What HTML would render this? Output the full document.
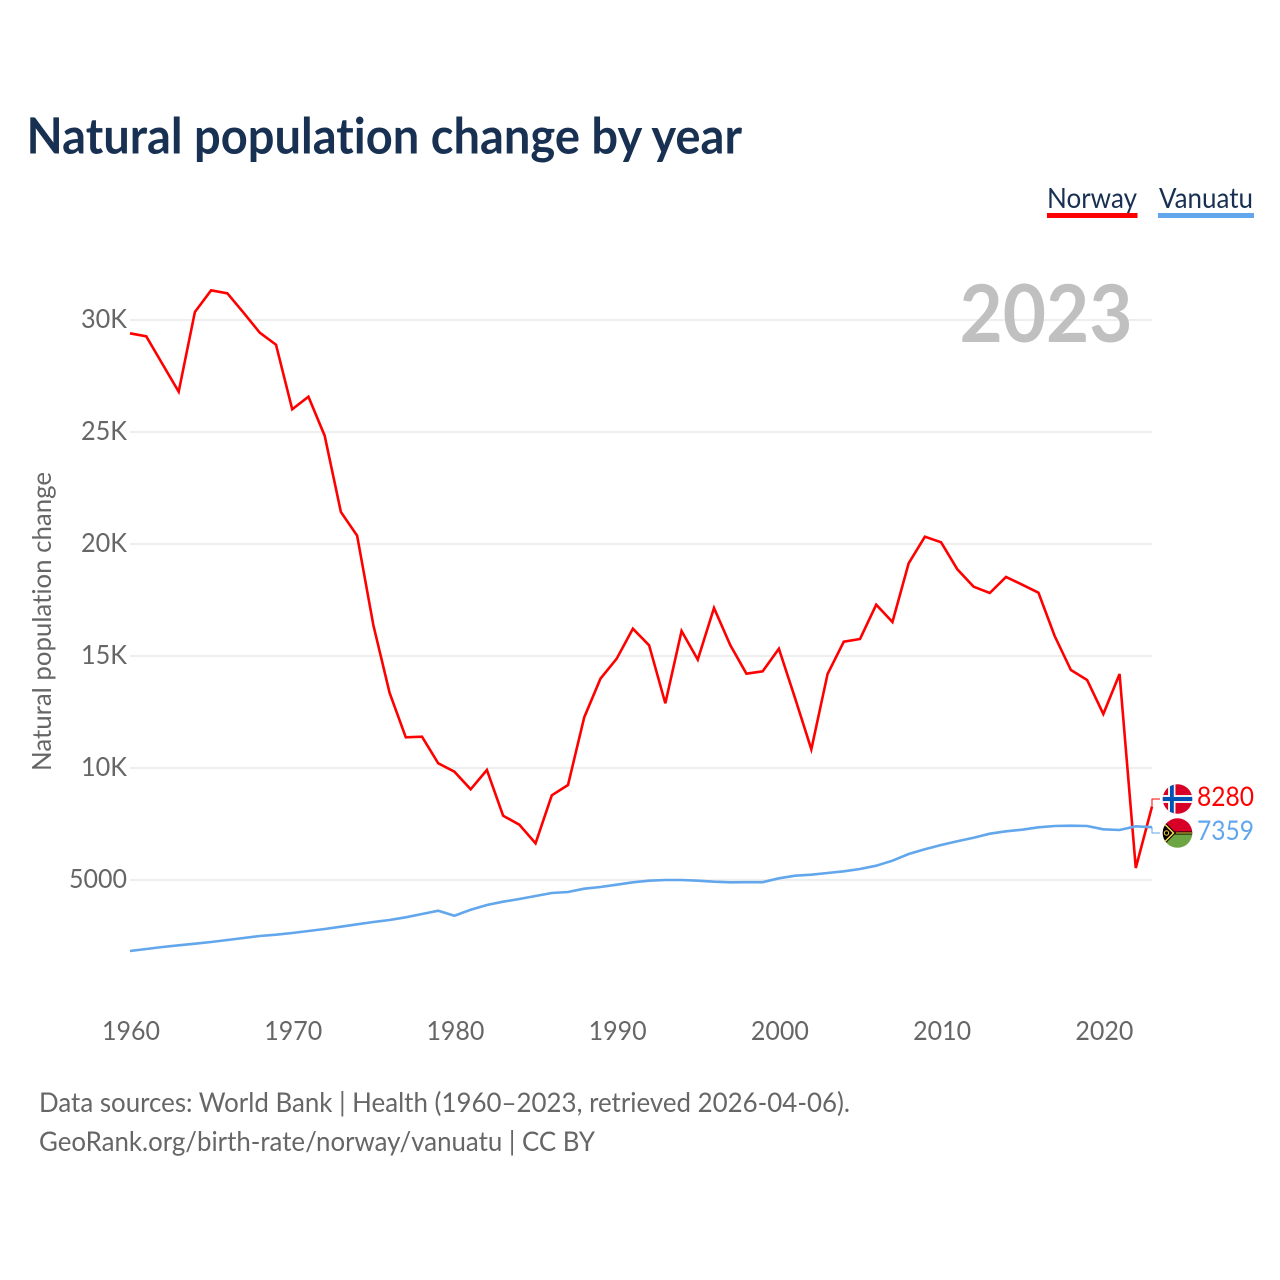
<!DOCTYPE html>
<html lang="en">
<head>
<meta charset="utf-8">
<title>Natural population change by year</title>
<style>
html,body{margin:0;padding:0;background:#fff;width:1280px;height:1280px;overflow:hidden}
svg{display:block}
text{font-family:"Lato","Carlito","Liberation Sans",sans-serif;font-variant-ligatures:none}
</style>
</head>
<body>
<svg id="chart" width="1280" height="1280" viewBox="0 0 1280 1280" xmlns="http://www.w3.org/2000/svg">
  <defs>
    <clipPath id="clip-no"><circle cx="1177.5" cy="799" r="14.8"/></clipPath>
    <clipPath id="clip-vu"><circle cx="1177.5" cy="833" r="14.8"/></clipPath>
  </defs>
  <rect x="0" y="0" width="1280" height="1280" fill="#fff"/>
  <text x="26.5" y="153.5" font-size="49.5" font-weight="700" fill="#183152" textLength="715.5" lengthAdjust="spacingAndGlyphs">Natural population change by year</text>

  <g>
    <g>
      <text x="1047" y="208" font-size="28.5" fill="#183152" textLength="90" lengthAdjust="spacingAndGlyphs">Norway</text>
      <rect x="1047" y="213" width="90.5" height="5" fill="#ff0000"/>
    </g>
    <g>
      <text x="1159" y="208" font-size="28.5" fill="#183152" textLength="94" lengthAdjust="spacingAndGlyphs">Vanuatu</text>
      <rect x="1158" y="213" width="96" height="5" fill="#62a6ec"/>
    </g>
  </g>

  <g id="grid"></g>
  <g id="y-axis"></g>
  <g id="x-axis"></g>

  <text x="959.5" y="342" font-size="80" font-weight="700" fill="#c0c0c0" textLength="173" lengthAdjust="spacingAndGlyphs">2023</text>

  <text transform="translate(51,771) rotate(-90)" x="0" y="0" font-size="26.5" fill="#666" textLength="299" lengthAdjust="spacingAndGlyphs">Natural population change</text>

  <g id="series"></g>

  <g clip-path="url(#clip-no)">
    <rect x="1162" y="784" width="31" height="30" fill="#d80027"/>
    <rect x="1168" y="784" width="7.5" height="30" fill="#f0f0f0"/>
    <rect x="1162" y="795" width="31" height="8" fill="#f0f0f0"/>
    <rect x="1170" y="784" width="3.8" height="30" fill="#0052b4"/>
    <rect x="1162" y="797" width="31" height="4" fill="#0052b4"/>
  </g>
  <g clip-path="url(#clip-vu)">
    <rect x="1162" y="818" width="31" height="15" fill="#d80027"/>
    <rect x="1162" y="833" width="31" height="15" fill="#6da544"/>
    <rect x="1168" y="831.5" width="25" height="3" fill="#000"/>
    <rect x="1172" y="832.5" width="21" height="1" fill="#ffda44"/>
    <polygon points="1162,819 1176,833 1162,847" fill="#000"/>
    <polyline points="1162,821.5 1173.5,833 1162,844.5" fill="none" stroke="#ffda44" stroke-width="1.5"/>
    <circle cx="1166.5" cy="833" r="2.2" fill="none" stroke="#ffda44" stroke-width="1"/>
  </g>

  <g id="labels"></g>

  <text x="39" y="1112" font-size="27" fill="#666" textLength="811" lengthAdjust="spacingAndGlyphs">Data sources: World Bank | Health (1960–2023, retrieved 2026-04-06).</text>
  <text x="39" y="1151" font-size="27" fill="#666" textLength="556" lengthAdjust="spacingAndGlyphs">GeoRank.org/birth-rate/norway/vanuatu | CC BY</text>
</svg>
<script>
const startYear = 1960;
const norwayValues = [29406,29272,28036,26799,30357,31326,31192,30326,29433,28897,
  26013,26576,24835,21429,20371,16384,13362,11370,11397,10210,
  9835,9049,9911,7870,7469,6638,8781,9241,12263,13987,
  14879,16219,15478,12888,16116,14839,17143,15491,14210,14317,
  15326,13112,10835,14196,15638,15759,17290,16518,19138,20326,
  20076,18870,18094,17812,18527,18183,17826,15893,14375,13929,
  12411,14196,5536,8280];
const vanuatuValues = [1830,1920,2009,2085,2156,2232,2321,2411,2500,2558,
  2634,2723,2812,2915,3022,3125,3214,3335,3482,3629,
  3406,3670,3884,4031,4152,4286,4420,4464,4612,4687,
  4790,4897,4969,5000,5000,4969,4924,4897,4902,4902,
  5076,5192,5237,5312,5388,5491,5638,5862,6161,6370,
  6563,6728,6888,7067,7174,7246,7353,7411,7424,7411,
  7263,7232,7397,7359];
const yTickValues = [30000,25000,20000,15000,10000,5000];
const yTickLabels = ["30K","25K","20K","15K","10K","5000"];
const xTickYears = [1960,1970,1980,1990,2000,2010,2020];

const NS = "http://www.w3.org/2000/svg";
function xScale(year){ return 130 + (year - 1960) * (1152 - 130) / 63; }
function yScale(v){ return 880 - (v - 5000) * 0.0224; }
function make(tag, attrs, parent){
  const el = document.createElementNS(NS, tag);
  for (const k in attrs) el.setAttribute(k, attrs[k]);
  parent.appendChild(el);
  return el;
}
const grid = document.getElementById("grid");
const yAxis = document.getElementById("y-axis");
const xAxis = document.getElementById("x-axis");
const series = document.getElementById("series");
const labels = document.getElementById("labels");

yTickValues.forEach(function(v, i){
  const line = make("line", {x1:130, x2:1152, y1:yScale(v), y2:yScale(v), stroke:"#eeeeee", "stroke-width":2}, grid);
  
  
  const txt = make("text", {x:127, y:yScale(v)+8, "text-anchor":"end", "font-size":26.5, fill:"#666",
    textLength: yTickLabels[i].endsWith("K") ? 46 : 58, lengthAdjust:"spacingAndGlyphs"}, yAxis);
  
  
  txt.textContent = yTickLabels[i];
});
xTickYears.forEach(function(yr){
  const txt = make("text", {x:xScale(yr)+1, y:1040, "text-anchor":"middle", "font-size":26.5, fill:"#666",
    textLength:58, lengthAdjust:"spacingAndGlyphs"}, xAxis);
  
  
  txt.textContent = String(yr);
});
function pathFor(values){
  return values.map(function(v, i){
    return (i ? "L" : "M") + xScale(startYear + i).toFixed(2) + " " + yScale(v).toFixed(2);
  }).join(" ");
}
function elbow(values, labelY){
  const lx = xScale(startYear + values.length - 1);
  const ly = yScale(values[values.length - 1]);
  return "M" + lx + " " + ly + " L" + lx + " " + labelY + " L1160 " + labelY;
}
const norwayLine = make("path", {d:pathFor(norwayValues), fill:"none", stroke:"#ff0000", "stroke-width":2.6, "stroke-linejoin":"miter"}, series);


const vanuatuLine = make("path", {d:pathFor(vanuatuValues), fill:"none", stroke:"#62a6ec", "stroke-width":2.6, "stroke-linejoin":"miter"}, series);


const norwayConn = make("path", {d:elbow(norwayValues, 799), fill:"none", stroke:"#ff0000", "stroke-width":1}, labels);


const vanuatuConn = make("path", {d:elbow(vanuatuValues, 833), fill:"none", stroke:"#62a6ec", "stroke-width":1}, labels);


const norwayVal = make("text", {x:1197, y:806, "font-size":27, fill:"#ff0000", textLength:57, lengthAdjust:"spacingAndGlyphs"}, labels);


norwayVal.textContent = String(norwayValues[norwayValues.length - 1]);
const vanuatuVal = make("text", {x:1197, y:840, "font-size":27, fill:"#62a6ec", textLength:57, lengthAdjust:"spacingAndGlyphs"}, labels);


vanuatuVal.textContent = String(vanuatuValues[vanuatuValues.length - 1]);
</script>
</body>
</html>
